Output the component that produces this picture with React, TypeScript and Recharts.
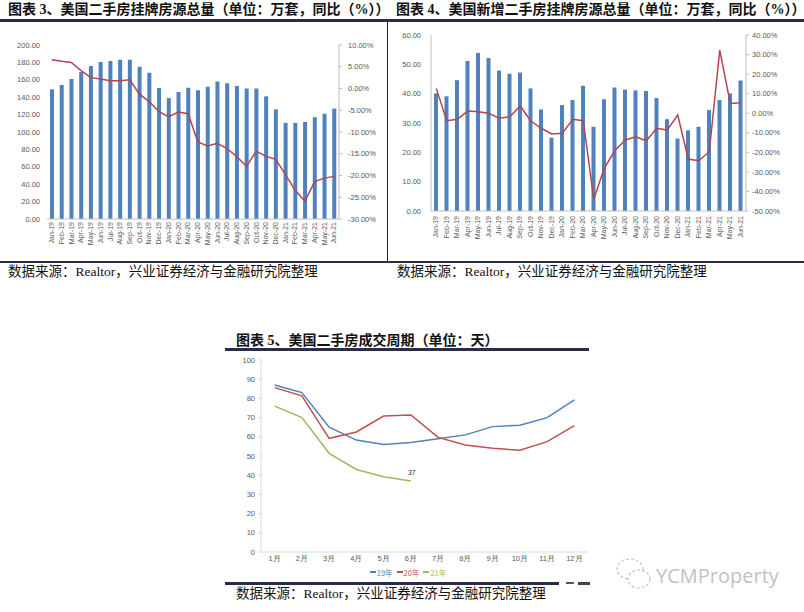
import React from 'react';
import { ComposedChart, Bar, Line, XAxis, YAxis, Legend } from 'recharts';

// shared month axis for 图表3 / 图表4
const months = [
  'Jan-19', 'Feb-19', 'Mar-19', 'Apr-19', 'May-19', 'Jun-19', 'Jul-19', 'Aug-19', 'Sep-19', 'Oct-19', 'Nov-19', 'Dec-19',
  'Jan-20', 'Feb-20', 'Mar-20', 'Apr-20', 'May-20', 'Jun-20', 'Jul-20', 'Aug-20', 'Sep-20', 'Oct-20', 'Nov-20', 'Dec-20',
  'Jan-21', 'Feb-21', 'Mar-21', 'Apr-21', 'May-21', 'Jun-21',
];

// 图表3: 挂牌房源总量 (万套) + 同比 (%)
const totalListings = [
  149, 154, 161, 169, 176, 180.5, 181.5, 183, 183, 175, 168, 150.5,
  139, 146, 151, 148, 152, 158, 156, 153, 150, 150, 141, 126,
  110.5, 110.5, 111.5, 117, 121, 127,
];
const totalYoy = [
  6.6, 6.25, 6.0, 4.1, 2.5, 2.2, 1.8, 1.8, 2.0, -1.3, -3.0, -5.3,
  -6.5, -5.4, -5.8, -12.3, -13.2, -12.6, -13.8, -15.7, -17.9, -14.4, -15.6, -16.3,
  -19.8, -23.4, -25.9, -21.4, -20.6, -20.2,
];
const totalLeftTicks = [0, 20, 40, 60, 80, 100, 120, 140, 160, 180, 200];
const totalRightTicks = [-30, -25, -20, -15, -10, -5, 0, 5, 10];

// 图表4: 新增挂牌房源 (万套) + 同比 (%)
const newListings = [
  40.1, 39.1, 44.6, 51.1, 53.9, 52.2, 47.9, 46.8, 47.2, 41.8, 34.6, 25.0,
  36.1, 37.8, 42.7, 28.7, 38.1, 42.1, 41.4, 41.1, 40.9, 38.5, 31.3, 24.7,
  27.5, 28.7, 34.4, 37.8, 40.1, 44.5,
];
const newYoy = [
  12.7, -3.8, -3.1, 1.1, 0.8, 0, -2.6, -1.8, 3.7, -4.0, -7.7, -10.6,
  -10.3, -3.1, -3.8, -44.0, -28.2, -19.2, -13.7, -12.0, -14.1, -7.7, -8.6, -0.9,
  -23.4, -24.3, -19.7, 32.3, 5.0, 5.4,
];
const newLeftTicks = [0, 10, 20, 30, 40, 50, 60];
const newRightTicks = [-50, -40, -30, -20, -10, 0, 10, 20, 30, 40];

// 图表5: 成交周期 (天)
const monthsCn = ['1月', '2月', '3月', '4月', '5月', '6月', '7月', '8月', '9月', '10月', '11月', '12月'];
const days19 = [87, 83, 65, 58.3, 56, 57, 59, 61, 65.3, 66, 70, 79.2];
const days20 = [85.6, 81.3, 59.2, 62.5, 70.8, 71.4, 59.7, 55.7, 54, 53, 57.5, 65.8];
const days21 = [76, 70, 51.4, 43, 39.2, 37];
const dayTicks = [0, 10, 20, 30, 40, 50, 60, 70, 80, 90, 100];

const table3 = months.map((m, i) => ({ month: m, total: totalListings[i], yoy: totalYoy[i] }));
const table4 = months.map((m, i) => ({ month: m, added: newListings[i], yoy: newYoy[i] }));
const table5 = monthsCn.map((m, i) => ({ month: m, y19: days19[i], y20: days20[i], y21: days21[i] }));

const AXIS_FONT = '"Liberation Sans", Arial, sans-serif';
const TEXT_FONT = '"Liberation Serif", "Noto Sans CJK SC", serif';
const NAVY = '#2a2c4a';
const BAR = '#4f81bd';
const RED = '#b3454d';
const GRAY = '#bfbfbf';

const tickStyle = { fontSize: 7.5, fill: '#595959', fontFamily: AXIS_FONT };
const pct = (v: number) => v.toFixed(2) + '%';
const fixed2 = (v: number) => v.toFixed(2);

const VerticalTick = (props: any) => {
  const { x, y, payload } = props;
  return (
    <text
      x={x}
      y={y}
      transform={`rotate(-90 ${x} ${y})`}
      textAnchor="end"
      dy="0.32em"
      fontSize={7}
      fill="#595959"
      fontFamily={AXIS_FONT}
    >
      {payload.value}
    </text>
  );
};

const Title: React.FC<{ left: number; top: number; text: string }> = ({ left, top, text }) => (
  <div style={{ position: 'absolute', left, top, height: 20, lineHeight: '20px', fontSize: 14, fontWeight: 700, color: '#111', whiteSpace: 'nowrap', fontFamily: TEXT_FONT }}>
    {text}
  </div>
);

const Source: React.FC<{ left: number; top: number }> = ({ left, top }) => (
  <div style={{ position: 'absolute', left, top, height: 20, lineHeight: '20px', fontSize: 13.5, color: '#111', whiteSpace: 'nowrap', fontFamily: TEXT_FONT }}>
    数据来源：Realtor，兴业证券经济与金融研究院整理
  </div>
);

const Rule: React.FC<{ left: number; top: number; width: number; height: number; color?: string }> = ({ left, top, width, height, color }) => (
  <div style={{ position: 'absolute', left, top, width, height, background: color || NAVY }} />
);

const TotalChart = () => (
  <ComposedChart width={387} height={262} data={table3} margin={{ top: 45, right: 8, bottom: 3, left: 7 }}>
    <XAxis dataKey="month" interval={0} height={40} tickLine={false} tickSize={0} tickMargin={3} axisLine={{ stroke: GRAY }} tick={(p: any) => <VerticalTick {...p} />} />
    <YAxis yAxisId="l" domain={[0, 200]} ticks={totalLeftTicks} width={40} axisLine={false} tickLine={false} tickSize={3} tickMargin={4} tick={tickStyle} tickFormatter={fixed2} />
    <YAxis yAxisId="r" orientation="right" domain={[-30, 10]} ticks={totalRightTicks} width={40} axisLine={{ stroke: GRAY }} tickLine={{ stroke: GRAY }} tickSize={3} tickMargin={6} tick={tickStyle} tickFormatter={pct} />
    <Bar yAxisId="l" dataKey="total" fill={BAR} barSize={4} isAnimationActive={false} />
    <Line yAxisId="r" dataKey="yoy" stroke={RED} strokeWidth={1.5} dot={false} isAnimationActive={false} />
  </ComposedChart>
);

const NewChart = () => (
  <ComposedChart width={417} height={262} data={table4} margin={{ top: 35, right: 13, bottom: 3, left: 4 }}>
    <XAxis dataKey="month" interval={0} height={48} tickLine={false} tickSize={0} tickMargin={5} axisLine={{ stroke: GRAY }} tick={(p: any) => <VerticalTick {...p} />} />
    <YAxis yAxisId="l" domain={[0, 60]} ticks={newLeftTicks} width={40} axisLine={{ stroke: GRAY }} tickLine={false} tickSize={3} tickMargin={7} tick={tickStyle} tickFormatter={fixed2} />
    <YAxis yAxisId="r" orientation="right" domain={[-50, 40]} ticks={newRightTicks} width={45} axisLine={{ stroke: GRAY }} tickLine={{ stroke: GRAY }} tickSize={3} tickMargin={3} tick={tickStyle} tickFormatter={pct} />
    <Bar yAxisId="l" dataKey="added" fill={BAR} barSize={4} isAnimationActive={false} />
    <Line yAxisId="r" dataKey="yoy" stroke={RED} strokeWidth={1.5} dot={false} isAnimationActive={false} />
  </ComposedChart>
);

const DaysLegend = ({ payload }: any) => (
  <div style={{ display: 'flex', justifyContent: 'center', alignItems: 'center', height: 12, fontSize: 7.5, fontFamily: '"Noto Sans CJK SC", sans-serif' }}>
    {(payload || []).map((p: any) => (
      <span key={p.value} style={{ display: 'flex', alignItems: 'center', color: p.color, marginRight: 4 }}>
        <span style={{ display: 'inline-block', width: 6, height: 1.5, background: p.color, marginRight: 1 }} />
        {p.value}
      </span>
    ))}
  </div>
);

const DaysChart = () => (
  <ComposedChart width={380} height={228} data={table5} margin={{ top: 5, right: 12, bottom: 5, left: 0 }}>
    <XAxis dataKey="month" scale="band" interval={0} height={14} tickLine={false} tickSize={2} tickMargin={2} axisLine={{ stroke: '#d9d9d9' }} tick={tickStyle} />
    <YAxis domain={[0, 100]} ticks={dayTicks} width={41} axisLine={{ stroke: '#d9d9d9' }} tickLine={{ stroke: '#d9d9d9' }} tickSize={3} tickMargin={3} tick={tickStyle} />
    <Legend verticalAlign="bottom" content={(p: any) => <DaysLegend {...p} />} wrapperStyle={{ left: 0, width: 380 }} />
    <Line dataKey="y19" name="19年" stroke="#4f81bd" strokeWidth={1.5} dot={false} isAnimationActive={false} />
    <Line dataKey="y20" name="20年" stroke="#c0504d" strokeWidth={1.5} dot={false} isAnimationActive={false} />
    <Line
      dataKey="y21"
      name="21年"
      stroke="#a3b861"
      strokeWidth={1.5}
      dot={false}
      isAnimationActive={false}
      label={(p: any) =>
        p.index === days21.length - 1 ? (
          <text x={p.x + 1} y={p.y - 6} textAnchor="middle" fontSize={7} fill="#333" fontFamily={AXIS_FONT}>
            {p.value}
          </text>
        ) : null
      }
    />
  </ComposedChart>
);

const Watermark = () => (
  <svg style={{ position: 'absolute', left: 608, top: 556 }} width={196} height={40}>
    <ellipse cx={22} cy={13} rx={13} ry={10} fill="none" stroke="#c4c4c4" strokeWidth={1.2} strokeDasharray="3 2" />
    <ellipse cx={31} cy={23} rx={11} ry={9} fill="#fff" stroke="#c4c4c4" strokeWidth={1.2} strokeDasharray="3 2" />
    <text x={48} y={27} fontSize={20} fill="#c2c2c2" fontFamily='"Open Sans", "Liberation Sans", sans-serif'>
      YCMProperty
    </text>
  </svg>
);

export default function App() {
  return (
    <div style={{ position: 'absolute', left: 0, top: 0, width: 804, height: 612, background: '#fff', overflow: 'hidden', fontFamily: TEXT_FONT }}>
      <Title left={8} top={0} text="图表 3、美国二手房挂牌房源总量（单位：万套，同比（%））" />
      <Title left={396} top={0} text="图表 4、美国新增二手房挂牌房源总量（单位：万套，同比（%））" />
      <Rule left={0} top={19} width={804} height={2.5} />
      <Rule left={386.5} top={20} width={1.2} height={242} color="#222" />
      <Rule left={0} top={260.5} width={804} height={2.5} />

      <div style={{ position: 'absolute', left: 0, top: 0 }}>
        <TotalChart />
      </div>
      <div style={{ position: 'absolute', left: 387, top: 0 }}>
        <NewChart />
      </div>

      <Source left={8} top={262} />
      <Source left={397} top={262} />

      <Title left={236} top={331} text="图表 5、美国二手房成交周期（单位：天）" />
      <Rule left={225} top={348} width={364} height={3} />
      <div style={{ position: 'absolute', left: 220, top: 355 }}>
        <DaysChart />
      </div>
      <Rule left={225} top={582} width={334} height={3} />
      <Rule left={566} top={582} width={8} height={2} color="#555" />
      <Rule left={578} top={582} width={12} height={3} color="#444" />
      <Watermark />
      <Source left={236} top={584} />
    </div>
  );
}
